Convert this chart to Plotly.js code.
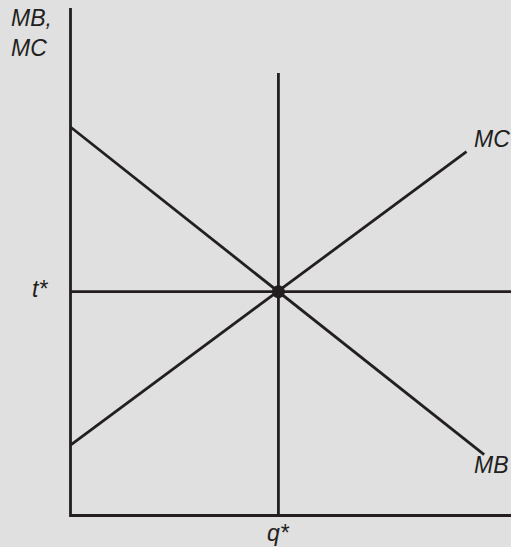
<!DOCTYPE html>
<html><head><meta charset="utf-8">
<script src="https://cdn.plot.ly/plotly-3.0.1.min.js"></script>
<style>html,body{margin:0;padding:0;background:#e0e0e0;}#chart{width:511px;height:547px;}</style>
</head><body><div id="chart"></div>
<script>
// Values (arbitrary units, origin at axes corner)
const qStar = 4.72;          // equilibrium quantity
const tStar = 4.41;          // equilibrium tax / price
const mbX = [0, 9.39];
const mbY = [7.655, 1.20];
const mcX = [0, 8.99];
const mcY = [1.389, 7.17];
const vertTop = 8.72;
const axisTop = 10;
const axisRight = 10;
const labels = {yTitle: "<i>MB,</i><br><i>MC</i>", t: "<i>t*</i>", q: "<i>q*</i>", mc: "<i>MC</i>", mb: "<i>MB</i>"};

const W = 511, H = 547;
const sx = 44.05, sy = 50.75;      // px per unit
const x0 = -70.5 / sx;
const yTopR = axisTop + 8 / sy, yBot = -(H - 515.5) / sy;
const px2x = p => x0 + p / sx;
const px2y = p => yTopR - p / sy;

const ink = '#231f20';
const lw = 2.8;
const traces = [
  {x: [0, 0, axisRight], y: [axisTop, 0, 0], mode: 'lines', line: {color: ink, width: lw}},
  {x: [0, axisRight], y: [tStar, tStar], mode: 'lines', line: {color: ink, width: lw}},
  {x: [qStar, qStar], y: [0, vertTop], mode: 'lines', line: {color: ink, width: lw}},
  {x: mbX, y: mbY, mode: 'lines', line: {color: ink, width: lw}},
  {x: mcX, y: mcY, mode: 'lines', line: {color: ink, width: lw}},
  {x: [qStar], y: [tStar], mode: 'markers', marker: {color: ink, size: 13}}
];
const f = {family: 'Liberation Sans, Arial, sans-serif', size: 23, color: ink};
const ann = (text, px, py, xa, ya) => ({text, x: px2x(px), y: px2y(py), xref: 'x', yref: 'y', xanchor: xa, yanchor: ya, showarrow: false, font: f, align: 'left'});
const layout = {
  width: W, height: H, margin: {l: 0, r: 0, t: 0, b: 0},
  paper_bgcolor: '#e0e0e0', plot_bgcolor: '#e0e0e0', showlegend: false,
  xaxis: {range: [x0, axisRight], visible: false, fixedrange: true},
  yaxis: {range: [yBot, yTopR], visible: false, fixedrange: true},
  annotations: [
    ann(labels.yTitle, 9, 33, 'left', 'middle'),
    ann(labels.t, 40, 289, 'center', 'middle'),
    ann(labels.q, 278, 533, 'center', 'middle'),
    ann(labels.mc, 492, 139, 'center', 'middle'),
    ann(labels.mb, 491, 465, 'center', 'middle')
  ]
};
Plotly.newPlot('chart', traces, layout, {displayModeBar: false, staticPlot: true});
</script></body></html>
